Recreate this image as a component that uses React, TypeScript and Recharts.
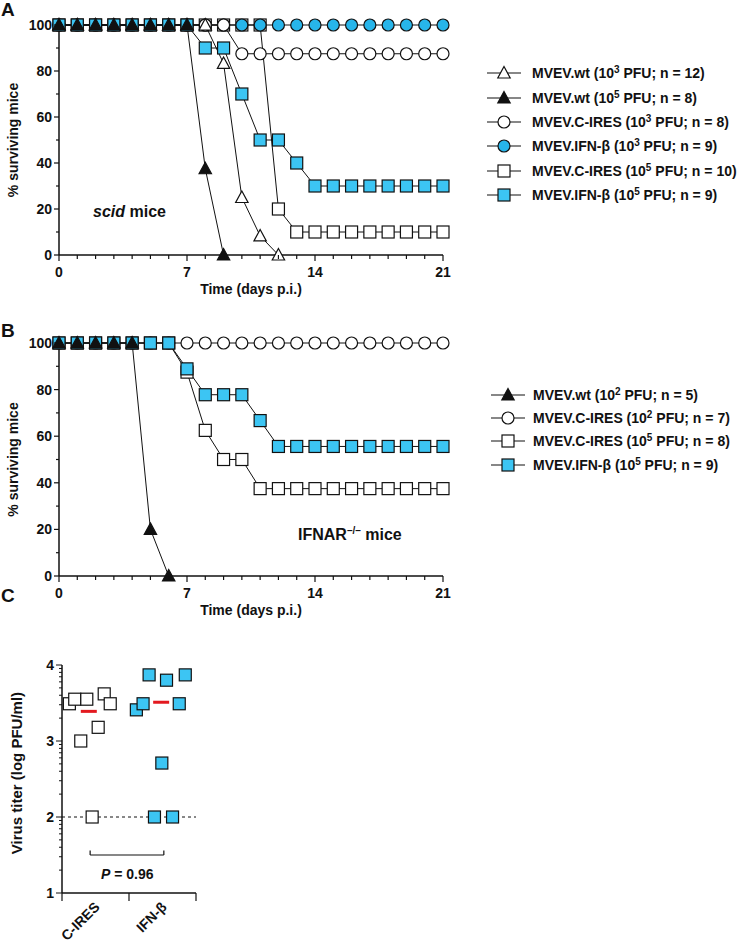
import React from 'react';
import {
  LineChart,
  Line,
  XAxis,
  YAxis,
  Label,
  ScatterChart,
  Scatter,
  ReferenceLine,
} from 'recharts';

const FONT = '"Liberation Sans", Arial, Helvetica, sans-serif';
const INK = '#111';
const SKY = '#3cc5f3';
const SKY_CIRCLE = '#27b5ea';
const RED = '#e3191f';

// survival axes
const days = [0, 1, 2, 3, 4, 5, 6, 7, 8, 9, 10, 11, 12, 13, 14, 15, 16, 17, 18, 19, 20, 21];
const dayLabels = [0, 7, 14, 21];
const pctTicks = [0, 10, 20, 30, 40, 50, 60, 70, 80, 90, 100];
const pctLabels = [0, 20, 40, 60, 80, 100];

// A: scid mice, % surviving per day (series stop at the last death)
const scidWt3 = [100, 100, 100, 100, 100, 100, 100, 100, 100, 83.3, 25, 8.3, 0];
const scidWt5 = [100, 100, 100, 100, 100, 100, 100, 100, 37.5, 0];
const scidCires3 = [100, 100, 100, 100, 100, 100, 100, 100, 100, 100, 87.5, 87.5, 87.5, 87.5, 87.5, 87.5, 87.5, 87.5, 87.5, 87.5, 87.5, 87.5];
const scidIfn3 = [100, 100, 100, 100, 100, 100, 100, 100, 100, 100, 100, 100, 100, 100, 100, 100, 100, 100, 100, 100, 100, 100];
const scidCires5 = [100, 100, 100, 100, 100, 100, 100, 100, 100, 100, 100, 100, 20, 10, 10, 10, 10, 10, 10, 10, 10, 10];
const scidIfn5 = [100, 100, 100, 100, 100, 100, 100, 100, 90, 90, 70, 50, 50, 40, 30, 30, 30, 30, 30, 30, 30, 30];

// B: IFNAR-/- mice
const ifnarWt2 = [100, 100, 100, 100, 100, 20, 0];
const ifnarCires2 = [100, 100, 100, 100, 100, 100, 100, 100, 100, 100, 100, 100, 100, 100, 100, 100, 100, 100, 100, 100, 100, 100];
const ifnarCires5 = [100, 100, 100, 100, 100, 100, 100, 87.5, 62.5, 50, 50, 37.5, 37.5, 37.5, 37.5, 37.5, 37.5, 37.5, 37.5, 37.5, 37.5, 37.5];
const ifnarIfn5 = [100, 100, 100, 100, 100, 100, 100, 88.9, 77.8, 77.8, 77.8, 66.7, 55.6, 55.6, 55.6, 55.6, 55.6, 55.6, 55.6, 55.6, 55.6, 55.6];

// C: virus titers (log PFU/ml), x = jitter within group
const groupLabels = ['C-IRES', 'IFN-β'];
const groupTicks = [0, 0.5, 1, 1.5, 2];
const titerLabels = [1, 2, 3, 4];
const ciresJitter = [0.11, 0.19, 0.37, 0.63, 0.72, 0.28, 0.54, 0.45];
const ciresTiter = [3.49, 3.55, 3.55, 3.62, 3.49, 3.0, 3.18, 2.0];
const ifnJitter = [1.11, 1.21, 1.3, 1.56, 1.84, 1.75, 1.49, 1.38, 1.65];
const ifnTiter = [3.41, 3.49, 3.87, 3.8, 3.87, 3.49, 2.71, 2.0, 2.0];
const medianX = [0.4, 1.48];
const medianTiter = [3.39, 3.51];
const bracketX = [0.42, 1.52];
const bracketY = [1.5, 1.56];
const detectionLimit = 2;

type Shape = 'triangle' | 'circle' | 'square';
type Series = { key: string; values: number[]; shape: Shape; fill: string; virus: string; dose: string; n: number };

// draw order = bottom to top
const scidSeries: Series[] = [
  { key: 'cires5', values: scidCires5, shape: 'square', fill: '#fff', virus: 'MVEV.C-IRES', dose: '5', n: 10 },
  { key: 'ifn3', values: scidIfn3, shape: 'circle', fill: SKY_CIRCLE, virus: 'MVEV.IFN-β', dose: '3', n: 9 },
  { key: 'cires3', values: scidCires3, shape: 'circle', fill: '#fff', virus: 'MVEV.C-IRES', dose: '3', n: 8 },
  { key: 'wt3', values: scidWt3, shape: 'triangle', fill: '#fff', virus: 'MVEV.wt', dose: '3', n: 12 },
  { key: 'ifn5', values: scidIfn5, shape: 'square', fill: SKY, virus: 'MVEV.IFN-β', dose: '5', n: 9 },
  { key: 'wt5', values: scidWt5, shape: 'triangle', fill: INK, virus: 'MVEV.wt', dose: '5', n: 8 },
];
const scidLegend = ['wt3', 'wt5', 'cires3', 'ifn3', 'cires5', 'ifn5'];

const ifnarSeries: Series[] = [
  { key: 'cires2', values: ifnarCires2, shape: 'circle', fill: '#fff', virus: 'MVEV.C-IRES', dose: '2', n: 7 },
  { key: 'cires5', values: ifnarCires5, shape: 'square', fill: '#fff', virus: 'MVEV.C-IRES', dose: '5', n: 8 },
  { key: 'ifn5', values: ifnarIfn5, shape: 'square', fill: SKY, virus: 'MVEV.IFN-β', dose: '5', n: 9 },
  { key: 'wt2', values: ifnarWt2, shape: 'triangle', fill: INK, virus: 'MVEV.wt', dose: '2', n: 5 },
];
const ifnarLegend = ['wt2', 'cires2', 'cires5', 'ifn5'];

const txt = { fontFamily: FONT, fontWeight: 700, fontSize: 14, fill: INK };

function Marker({ shape, fill, cx, cy }: { shape: Shape; fill: string; cx: number; cy: number }) {
  if (shape === 'circle') return <circle cx={cx} cy={cy} r={6} fill={fill} stroke={INK} strokeWidth={1.2} />;
  if (shape === 'square')
    return <rect x={cx - 6} y={cy - 6} width={12} height={12} fill={fill} stroke={INK} strokeWidth={1.2} />;
  return (
    <polygon
      points={`${cx},${cy - 6.5} ${cx + 6.2},${cy + 5} ${cx - 6.2},${cy + 5}`}
      fill={fill}
      stroke={INK}
      strokeWidth={1.2}
    />
  );
}

const dotFor = (s: Series) => (p: any) => {
  const k = `${s.key}-${p.index}`;
  if (!Number.isFinite(p.cy)) return <g key={k} />;
  return (
    <g key={k}>
      <Marker shape={s.shape} fill={s.fill} cx={p.cx} cy={p.cy} />
    </g>
  );
};

const renderDayTick = (p: any) => {
  const { x, y, payload } = p;
  const major = dayLabels.includes(payload.value);
  return (
    <g key={`d${payload.value}`}>
      <line x1={x} x2={x} y1={y} y2={y + (major ? 6 : 4)} stroke={INK} strokeWidth={1.2} />
      {major && (
        <text x={x} y={y + 22} textAnchor="middle" {...txt}>
          {payload.value}
        </text>
      )}
    </g>
  );
};

const renderPctTick = (p: any) => {
  const { x, y, payload } = p;
  const major = pctLabels.includes(payload.value);
  return (
    <g key={`p${payload.value}`}>
      <line x1={x - (major ? 5 : 3)} x2={x} y1={y} y2={y} stroke={INK} strokeWidth={1.2} />
      {major && (
        <text x={x - 7} y={y + 5} textAnchor="end" {...txt}>
          {payload.value}
        </text>
      )}
    </g>
  );
};

function SurvivalLegend({ series, order, top, left, gap, rowH }: any) {
  return (
    <div style={{ position: 'absolute', top, left }}>
      {order.map((key: string) => {
        const s = series.find((d: Series) => d.key === key) as Series;
        return (
          <div key={key} style={{ display: 'flex', alignItems: 'center', height: rowH }}>
            <svg width={34} height={16} style={{ overflow: 'visible' }}>
              <line x1={0} x2={34} y1={8} y2={8} stroke={INK} strokeWidth={1.2} />
              <Marker shape={s.shape} fill={s.fill} cx={17} cy={8} />
            </svg>
            <span
              style={{
                marginLeft: gap,
                fontFamily: FONT,
                fontWeight: 700,
                fontSize: 14,
                color: INK,
                whiteSpace: 'nowrap',
              }}
            >
              {s.virus} (10
              <span style={{ fontSize: 10, position: 'relative', top: -5 }}>{s.dose}</span> PFU; n = {s.n})
            </span>
          </div>
        );
      })}
    </div>
  );
}

function SurvivalPanel({ top, series, plotH }: { top: number; series: Series[]; plotH: number }) {
  const H = 305;
  const data = days.map((d, i) => {
    const row: Record<string, number | null> = { day: d };
    series.forEach((s) => {
      row[s.key] = i < s.values.length ? s.values[i] : null;
    });
    return row;
  });
  return (
    <div style={{ position: 'absolute', left: 0, top, width: 742, height: H }}>
      <LineChart
        width={742}
        height={H}
        data={data}
        margin={{ top: 25, right: 299, bottom: H - 25 - plotH - 45, left: 14 }}
      >
        <XAxis
          dataKey="day"
          type="number"
          domain={[0, 21]}
          ticks={days}
          interval={0}
          tick={renderDayTick}
          tickLine={false}
          tickSize={0}
          tickMargin={0}
          height={45}
          axisLine={{ stroke: INK, strokeWidth: 1.5 }}
        >
          <Label
            content={({ viewBox }: any) => (
              <text x={viewBox.x + viewBox.width / 2} y={viewBox.y + 39} textAnchor="middle" {...txt}>
                Time (days p.i.)
              </text>
            )}
          />
        </XAxis>
        <YAxis
          type="number"
          domain={[0, 100]}
          ticks={pctTicks}
          interval={0}
          tick={renderPctTick}
          tickLine={false}
          tickSize={0}
          tickMargin={0}
          width={45}
          axisLine={{ stroke: INK, strokeWidth: 1.5 }}
        >
          <Label
            content={({ viewBox }: any) => {
              const cy = viewBox.y + viewBox.height / 2;
              return (
                <text x={13} y={cy} transform={`rotate(-90, 13, ${cy})`} textAnchor="middle" dy={5} {...txt}>
                  % surviving mice
                </text>
              );
            }}
          />
        </YAxis>
        {series.map((s) => (
          <Line
            key={s.key}
            type="linear"
            dataKey={s.key}
            stroke={INK}
            strokeWidth={1}
            dot={dotFor(s)}
            activeDot={false}
            isAnimationActive={false}
          />
        ))}
      </LineChart>
    </div>
  );
}

const renderGroupTick = (p: any) => {
  const { x, y, payload } = p;
  const v = payload.value;
  if (Number.isInteger(v))
    return (
      <g key={`g${v}`}>
        <line x1={x} x2={x} y1={y} y2={y + 8} stroke={INK} strokeWidth={1.2} />
      </g>
    );
  const tx = x + 5;
  const ty = y + 15;
  return (
    <g key={`g${v}`}>
      <text x={tx} y={ty} textAnchor="end" transform={`rotate(-45, ${tx}, ${ty})`} {...txt}>
        {groupLabels[Math.floor(v)]}
      </text>
    </g>
  );
};

const titerTicks = [1, 2, 3]
  .flatMap((d) => [2, 3, 4, 5, 6, 7, 8, 9].map((m) => d + Math.log10(m)))
  .concat(titerLabels);

const renderTiterTick = (p: any) => {
  const { x, y, payload } = p;
  const major = titerLabels.includes(payload.value);
  return (
    <g key={`t${payload.value}`}>
      <line x1={x - (major ? 6 : 3)} x2={x} y1={y} y2={y} stroke={INK} strokeWidth={1} />
      {major && (
        <text x={x - 8} y={y + 5} textAnchor="end" {...txt}>
          {payload.value}
        </text>
      )}
    </g>
  );
};

const squareShape = (fill: string) => (p: any) => (
  <rect x={p.cx - 6} y={p.cy - 6} width={12} height={12} fill={fill} stroke={INK} strokeWidth={1.2} />
);
const medianShape = (p: any) => <rect x={p.cx - 8} y={p.cy - 1.5} width={16} height={3} fill={RED} />;

function TiterPanel() {
  const cires = ciresJitter.map((x, i) => ({ x, y: ciresTiter[i] }));
  const ifn = ifnJitter.map((x, i) => ({ x, y: ifnTiter[i] }));
  const medians = medianX.map((x, i) => ({ x, y: medianTiter[i] }));
  return (
    <div style={{ position: 'absolute', left: 0, top: 640 }}>
      <ScatterChart width={260} height={320} margin={{ top: 25, right: 64, bottom: 7, left: 12 }}>
        <XAxis
          type="number"
          dataKey="x"
          domain={[0, 2]}
          ticks={groupTicks}
          interval={0}
          tick={renderGroupTick}
          tickLine={false}
          tickSize={0}
          tickMargin={0}
          height={60}
          axisLine={{ stroke: INK, strokeWidth: 1.5 }}
        />
        <YAxis
          type="number"
          dataKey="y"
          domain={[1, 4]}
          ticks={titerTicks}
          interval={0}
          tick={renderTiterTick}
          tickLine={false}
          tickSize={0}
          tickMargin={0}
          width={50}
          axisLine={{ stroke: INK, strokeWidth: 1.5 }}
        >
          <Label
            content={({ viewBox }: any) => {
              const cy = viewBox.y + viewBox.height / 2 - 6;
              return (
                <text x={17} y={cy} transform={`rotate(-90, 17, ${cy})`} textAnchor="middle" dy={5} {...txt} fontSize={15}>
                  Virus titer (log PFU/ml)
                </text>
              );
            }}
          />
        </YAxis>
        <ReferenceLine y={detectionLimit} stroke={INK} strokeWidth={1} strokeDasharray="3 3" />
        <ReferenceLine
          segment={[
            { x: bracketX[0], y: bracketY[0] },
            { x: bracketX[1], y: bracketY[0] },
          ]}
          stroke={INK}
          strokeWidth={1.2}
        />
        <ReferenceLine
          segment={[
            { x: bracketX[0], y: bracketY[0] },
            { x: bracketX[0], y: bracketY[1] },
          ]}
          stroke={INK}
          strokeWidth={1.2}
        />
        <ReferenceLine
          segment={[
            { x: bracketX[1], y: bracketY[0] },
            { x: bracketX[1], y: bracketY[1] },
          ]}
          stroke={INK}
          strokeWidth={1.2}
        />
        <Scatter data={cires} shape={squareShape('#fff')} isAnimationActive={false} />
        <Scatter data={ifn} shape={squareShape(SKY)} isAnimationActive={false} />
        <Scatter data={medians} shape={medianShape} isAnimationActive={false} />
      </ScatterChart>
    </div>
  );
}

const note: React.CSSProperties = {
  position: 'absolute',
  fontFamily: FONT,
  fontWeight: 700,
  color: INK,
  whiteSpace: 'nowrap',
};

export default function App() {
  return (
    <div style={{ position: 'absolute', left: 0, top: 0, width: 742, height: 950, background: '#fff' }}>
      <SurvivalPanel top={0} series={scidSeries} plotH={230} />
      <SurvivalLegend series={scidSeries} order={scidLegend} top={61} left={487} gap={11} rowH={24.4} />
      <SurvivalPanel top={318} series={ifnarSeries} plotH={233} />
      <SurvivalLegend series={ifnarSeries} order={ifnarLegend} top={383} left={491} gap={8} rowH={23.4} />
      <TiterPanel />

      <div style={{ ...note, fontSize: 19, left: 1, top: 0, lineHeight: '20px' }}>A</div>
      <div style={{ ...note, fontSize: 19, left: 1, top: 321, lineHeight: '20px' }}>B</div>
      <div style={{ ...note, fontSize: 19, left: 1, top: 586, lineHeight: '20px' }}>C</div>

      <div style={{ ...note, fontSize: 16, left: 93, top: 204, lineHeight: '16px' }}>
        <i>scid</i> mice
      </div>
      <div style={{ ...note, fontSize: 16, left: 298, top: 527, lineHeight: '16px' }}>
        IFNAR<span style={{ fontSize: 10, position: 'relative', top: -6 }}>–/–</span> mice
      </div>
      <div style={{ ...note, fontSize: 14, left: 101, top: 867, lineHeight: '14px' }}>
        <i>P</i> = 0.96
      </div>
    </div>
  );
}
